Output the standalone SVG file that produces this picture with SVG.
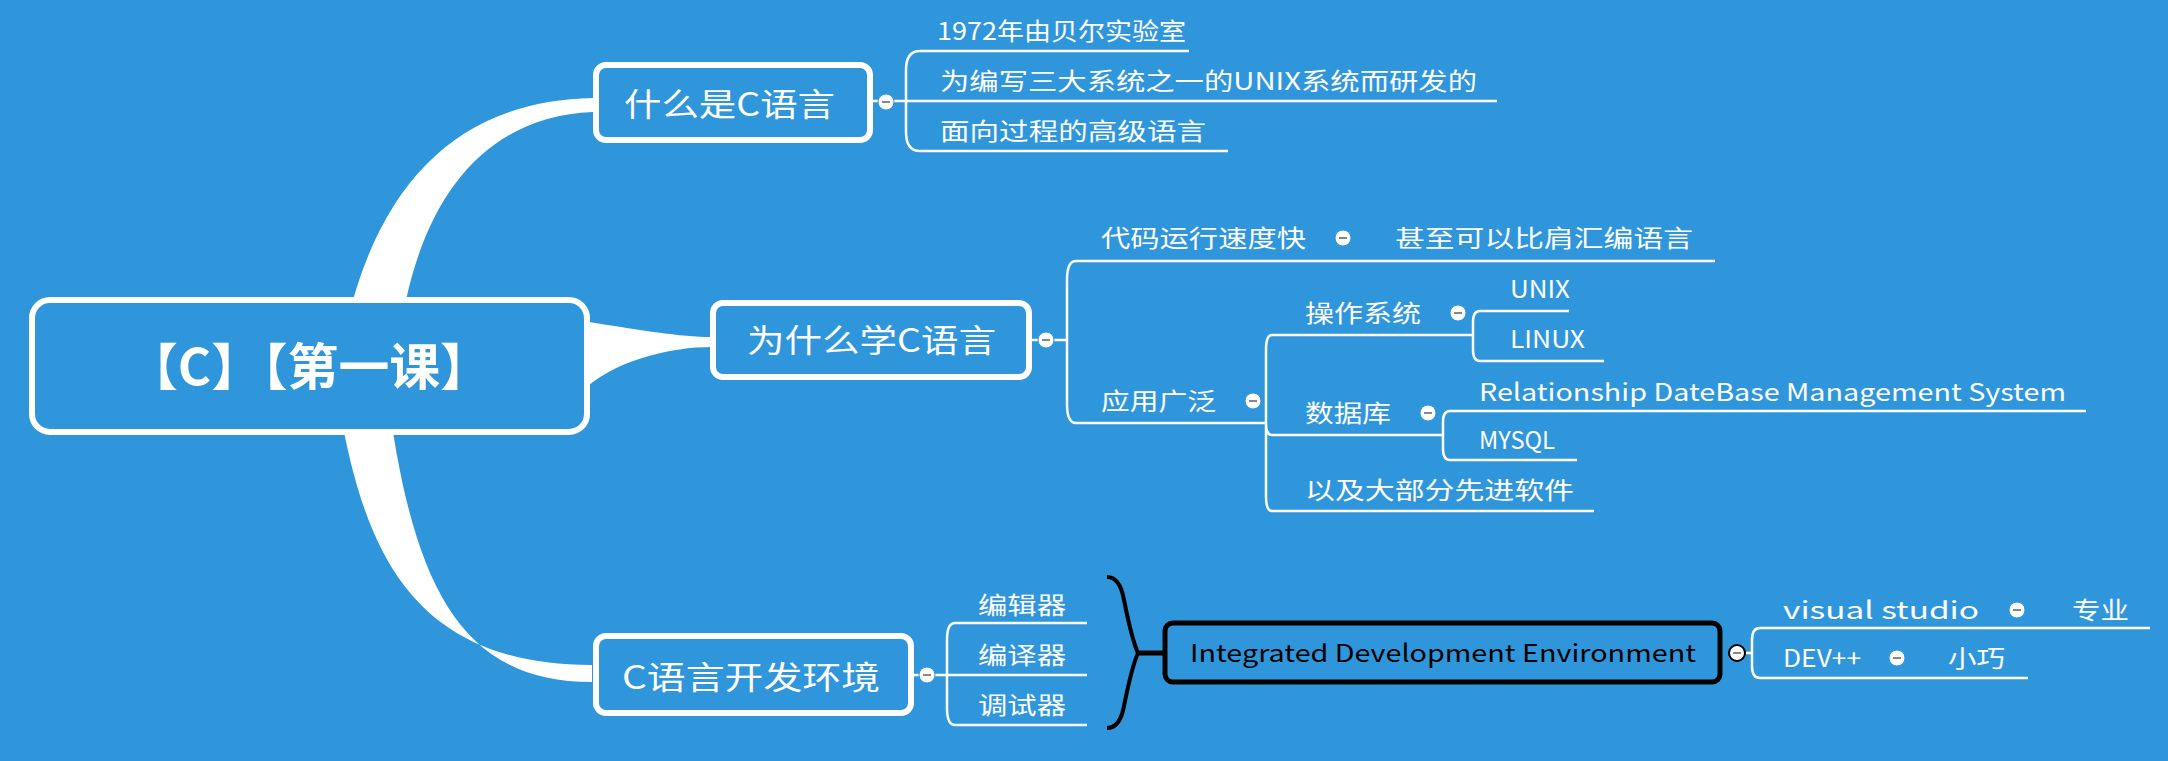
<svg xmlns="http://www.w3.org/2000/svg" width="2168" height="761" viewBox="0 0 2168 761">
<style>
.t{font-family:"Noto Sans CJK SC","Liberation Sans",sans-serif;fill:#fff;font-size:24px}
.t1{font-family:"Noto Sans CJK SC","Liberation Sans",sans-serif;fill:#fff;font-size:32px}
.ln{stroke:#fff;stroke-width:2.5;fill:none}
.box{fill:#2f96dc;stroke:#fff;stroke-width:6}
.cb{fill:#fff;stroke:#2f96dc;stroke-width:1}
.mn{stroke:#888;stroke-width:2}
</style>
<rect width="2168" height="761" fill="#2f96dc"/>
<g id="connectors">
<path d="M353,300 C390,170 470,100 593,98 L593,112 C490,116 430,190 406,300 Z" fill="#fff"/>
<path d="M589,322 C640,330 680,337 712,337 L712,347 C670,347 620,360 589,385 Z" fill="#fff"/>
<path d="M344,432 C370,560 420,665 592,665 L592,682 C470,682 420,600 393,432 Z" fill="#fff"/>
<!-- box1 children -->
<path class="ln" d="M920,51 Q906,51 906,70 L906,132 Q906,151 920,151 M871,101 L920,101"/>
<path class="ln" d="M920,51 H1189 M920,101 H1497 M920,151 H1228"/>
<!-- box2 children -->
<path class="ln" d="M1076,261 Q1067,261 1067,280 L1067,404 Q1067,423 1076,423 M1030,340 H1067"/>
<path class="ln" d="M1076,261 H1715 M1076,423 H1266"/>
<path class="ln" d="M1272,335 Q1266,335 1266,350 L1266,496 Q1266,511 1272,511 M1266,423 Q1266,435 1272,435"/>
<path class="ln" d="M1272,335 H1473 M1272,435 H1443 M1272,511 H1594"/>
<path class="ln" d="M1480,311 Q1473,311 1473,322 L1473,350 Q1473,361 1480,361"/>
<path class="ln" d="M1480,311 H1569 M1480,361 H1604"/>
<path class="ln" d="M1450,411 Q1443,411 1443,422 L1443,449 Q1443,460 1450,460"/>
<path class="ln" d="M1450,411 H2086 M1450,460 H1577"/>
<!-- box3 children -->
<path class="ln" d="M955,623 Q947,623 947,640 L947,708 Q947,725 955,725 M913,675 H947"/>
<path class="ln" d="M955,623 H1087 M947,675 H1087 M955,725 H1087"/>
<path d="M1107,577 Q1120,577 1124,600 Q1132,640 1138,653 Q1132,666 1124,706 Q1120,728 1107,728" fill="none" stroke="#000" stroke-width="4"/>
<path d="M1138,653 H1164" stroke="#000" stroke-width="5"/>
<path class="ln" d="M1760,628 Q1752,628 1752,640 L1752,666 Q1752,678 1760,678 M1745,653 H1752"/>
<path class="ln" d="M1760,628 H2150 M1760,678 H2028"/>
</g>
<g id="root"><rect x="32" y="300" width="555" height="132" rx="18" class="box" stroke-width="10"/>
<text x="127" y="385" textLength="364" lengthAdjust="spacingAndGlyphs" class="t1" style="font-size:50px;font-weight:bold">【C】【第一课】</text></g>
<g id="n1"><rect x="596" y="65" width="274" height="75" rx="10" class="box"/>
<text x="624" y="116" textLength="211" lengthAdjust="spacingAndGlyphs" class="t1">什么是C语言</text>
<circle cx="886" cy="102" r="8" class="cb"/><line x1="882" y1="102" x2="890" y2="102" class="mn"/></g>
<g id="n1a"><text x="937" y="40" textLength="249" lengthAdjust="spacingAndGlyphs" class="t">1972年由贝尔实验室</text></g>
<g id="n1b"><text x="940" y="90" textLength="537" lengthAdjust="spacingAndGlyphs" class="t">为编写三大系统之一的UNIX系统而研发的</text></g>
<g id="n1c"><text x="940" y="140" textLength="266" lengthAdjust="spacingAndGlyphs" class="t">面向过程的高级语言</text></g>
<g id="n2"><rect x="713" y="303" width="316" height="74" rx="10" class="box"/>
<text x="747" y="352" textLength="249" lengthAdjust="spacingAndGlyphs" class="t1">为什么学C语言</text>
<circle cx="1046" cy="340" r="8" class="cb"/><line x1="1042" y1="340" x2="1050" y2="340" class="mn"/></g>
<g id="n2a"><text x="1101" y="247" textLength="205" lengthAdjust="spacingAndGlyphs" class="t">代码运行速度快</text>
<circle cx="1343" cy="238" r="8" class="cb"/><line x1="1339" y1="238" x2="1347" y2="238" class="mn"/></g>
<g id="n2a1"><text x="1395" y="247" textLength="298" lengthAdjust="spacingAndGlyphs" class="t">甚至可以比肩汇编语言</text></g>
<g id="n2b"><text x="1101" y="410" textLength="115" lengthAdjust="spacingAndGlyphs" class="t">应用广泛</text>
<circle cx="1253" cy="401" r="8" class="cb"/><line x1="1249" y1="401" x2="1257" y2="401" class="mn"/></g>
<g id="os"><text x="1305" y="322" textLength="116" lengthAdjust="spacingAndGlyphs" class="t">操作系统</text>
<circle cx="1458" cy="313" r="8" class="cb"/><line x1="1454" y1="313" x2="1462" y2="313" class="mn"/></g>
<g id="unix"><text x="1510" y="298" textLength="60" lengthAdjust="spacingAndGlyphs" class="t">UNIX</text></g>
<g id="linux"><text x="1510" y="348" textLength="75" lengthAdjust="spacingAndGlyphs" class="t">LINUX</text></g>
<g id="db"><text x="1305" y="422" textLength="86" lengthAdjust="spacingAndGlyphs" class="t">数据库</text>
<circle cx="1428" cy="413" r="8" class="cb"/><line x1="1424" y1="413" x2="1432" y2="413" class="mn"/></g>
<g id="rdbms"><text x="1479" y="401" textLength="587" lengthAdjust="spacingAndGlyphs" class="t">Relationship DateBase Management System</text></g>
<g id="mysql"><text x="1479" y="449" textLength="76" lengthAdjust="spacingAndGlyphs" class="t">MYSQL</text></g>
<g id="soft"><text x="1305" y="499" textLength="269" lengthAdjust="spacingAndGlyphs" class="t">以及大部分先进软件</text></g>
<g id="n3"><rect x="596" y="636" width="315" height="77" rx="10" class="box"/>
<text x="622" y="689" textLength="258" lengthAdjust="spacingAndGlyphs" class="t1">C语言开发环境</text>
<circle cx="927" cy="675" r="8" class="cb"/><line x1="923" y1="675" x2="931" y2="675" class="mn"/></g>
<g id="ed"><text x="978" y="614" textLength="88" lengthAdjust="spacingAndGlyphs" class="t">编辑器</text></g>
<g id="cp"><text x="978" y="664" textLength="88" lengthAdjust="spacingAndGlyphs" class="t">编译器</text></g>
<g id="dbg"><text x="978" y="714" textLength="88" lengthAdjust="spacingAndGlyphs" class="t">调试器</text></g>
<g id="ide"><rect x="1165" y="623" width="555" height="59" rx="8" fill="#2f96dc" stroke="#000" stroke-width="5"/>
<text x="1190" y="662" textLength="506" lengthAdjust="spacingAndGlyphs" class="t" style="fill:#000">Integrated Development Environment</text>
<circle cx="1737" cy="653" r="8" fill="#fff" stroke="#000" stroke-width="2"/><line x1="1733" y1="653" x2="1741" y2="653" class="mn"/></g>
<g id="vs"><text x="1783" y="619" textLength="196" lengthAdjust="spacingAndGlyphs" class="t">visual studio</text>
<circle cx="2017" cy="610" r="8" class="cb"/><line x1="2013" y1="610" x2="2021" y2="610" class="mn"/></g>
<g id="vs1"><text x="2072" y="619" textLength="57" lengthAdjust="spacingAndGlyphs" class="t">专业</text></g>
<g id="dev"><text x="1783" y="667" textLength="78" lengthAdjust="spacingAndGlyphs" class="t">DEV++</text>
<circle cx="1897" cy="658" r="8" class="cb"/><line x1="1893" y1="658" x2="1901" y2="658" class="mn"/></g>
<g id="dev1"><text x="1948" y="667" textLength="57" lengthAdjust="spacingAndGlyphs" class="t">小巧</text></g>
</svg>
